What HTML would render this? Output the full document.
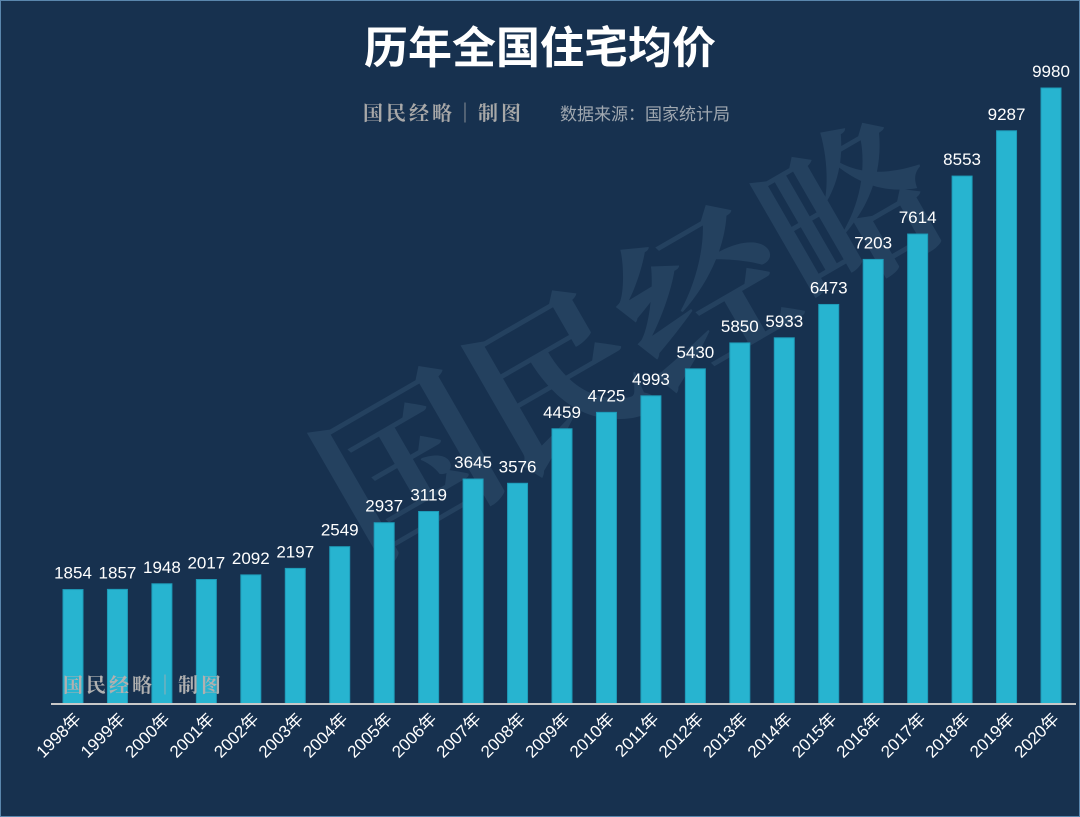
<!DOCTYPE html>
<html><head><meta charset="utf-8"><style>
html,body{margin:0;padding:0;}
body{width:1080px;height:817px;background:#17314f;overflow:hidden;font-family:"Liberation Sans","Noto Sans CJK SC",sans-serif;}
#frame{position:absolute;left:0;top:0;width:1078px;height:815px;border:1px solid #5a86ad;}
</style></head><body>
<div id="frame"></div>
<svg id="chart" width="1080" height="817" style="position:absolute;left:0;top:0">
<text x="540" y="63" text-anchor="middle" fill="#ffffff" font-size="44" font-weight="bold" font-family="Liberation Sans,Noto Sans CJK SC,sans-serif">历年全国住宅均价</text>
<text x="630" y="400" text-anchor="middle" fill="#2a4866" font-size="170" font-weight="bold" font-family="Noto Serif CJK SC,serif" transform="rotate(-30 630 340)" opacity="0.7">国民经略</text>
<text x="363" y="120" fill="#a8a8a8" font-size="20" font-weight="bold" letter-spacing="3" font-family="Noto Serif CJK SC,serif">国民经略｜制图</text>
<text x="560" y="120" fill="#a0a8b0" font-size="17" font-family="Liberation Sans,Noto Sans CJK SC,sans-serif">数据来源：国家统计局</text>
<g id="bars"></g>
<text x="63" y="692" fill="#b0b0b0" font-size="20" font-weight="bold" letter-spacing="3" font-family="Noto Serif CJK SC,serif">国民经略｜制图</text>
<line x1="51" y1="704" x2="1076" y2="704" stroke="#c8c8c8" stroke-width="2"/>
</svg>
<script>
const years=["1998年","1999年","2000年","2001年","2002年","2003年","2004年","2005年","2006年","2007年","2008年","2009年","2010年","2011年","2012年","2013年","2014年","2015年","2016年","2017年","2018年","2019年","2020年"];
const prices=[1854,1857,1948,2017,2092,2197,2549,2937,3119,3645,3576,4459,4725,4993,5430,5850,5933,6473,7203,7614,8553,9287,9980];
const NS="http://www.w3.org/2000/svg";
const g=document.getElementById('bars');
const x0=73,step=(1051-73)/22,base=704,scale=616/9980,bw=20;
function xs(i){return x0+i*step;}
function ys(v){return base-v*scale;}
prices.forEach((v,i)=>{
  const cx=xs(i);
  const r=document.createElementNS(NS,'rect');
  r.setAttribute('x',cx-bw/2);r.setAttribute('y',ys(v));r.setAttribute('width',bw);r.setAttribute('height',base-ys(v));
  r.setAttribute('fill','#27b4d0');r.setAttribute('stroke','#1e9bb8');r.setAttribute('stroke-width','1');
  
  
  g.appendChild(r);
  const t=document.createElementNS(NS,'text');
  t.setAttribute('x',cx);t.setAttribute('y',ys(v)-11);t.setAttribute('text-anchor','middle');
  t.setAttribute('fill','#ffffff');t.setAttribute('font-size','17');
  t.textContent=v;
  
  
  g.appendChild(t);
  const l=document.createElementNS(NS,'text');
  l.setAttribute('x',cx+9);l.setAttribute('y',720);l.setAttribute('text-anchor','end');
  l.setAttribute('fill','#ffffff');l.setAttribute('font-size','17');
  l.setAttribute('transform','rotate(-45 '+(cx+9)+' 720)');
  l.textContent=years[i];
  
  
  g.appendChild(l);
});
</script>
</body></html>
